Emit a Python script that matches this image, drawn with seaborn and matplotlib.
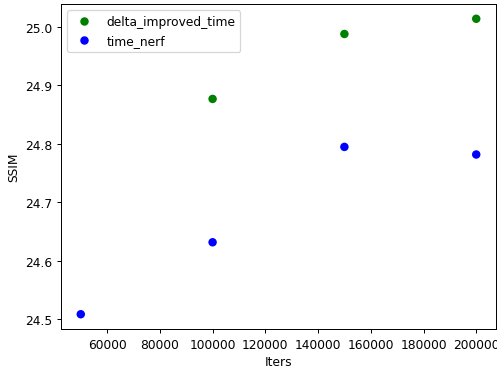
import pandas as pd
import seaborn as sns
import matplotlib.pyplot as plt

iters_improved = [100000, 150000, 200000]
ssim_improved = [24.877, 24.988, 25.014]
iters_nerf = [50000, 100000, 150000, 200000]
ssim_nerf = [24.509, 24.632, 24.795, 24.782]

df = pd.concat([
    pd.DataFrame({"Iters": iters_improved, "SSIM": ssim_improved, "series": "delta_improved_time"}),
    pd.DataFrame({"Iters": iters_nerf, "SSIM": ssim_nerf, "series": "time_nerf"}),
])

# reference looks like a downscaled default figure, so use a lower dpi
dpi = 88
fig = plt.figure(figsize=(497 / dpi, 370 / dpi), dpi=dpi)
ax = fig.add_axes([61 / 497, 40 / 370, 435 / 497, 325 / 370])

sns.scatterplot(
    data=df, x="Iters", y="SSIM", hue="series",
    palette={"delta_improved_time": "green", "time_nerf": "blue"},
    s=48, linewidth=0, ax=ax,
)
ax.legend(loc="upper left", title=None)
ax.set_xticks([60000, 80000, 100000, 120000, 140000, 160000, 180000, 200000])

fig.savefig("out.png", dpi=dpi)
